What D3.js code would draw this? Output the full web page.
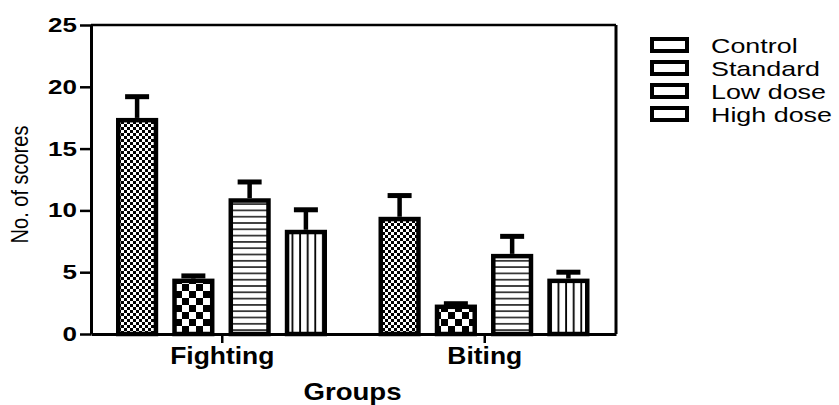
<!DOCTYPE html>
<html>
<head>
<meta charset="utf-8">
<script src="https://cdn.jsdelivr.net/npm/d3@7"></script>
<style>
  body { margin: 0; background: #fff; }
  text { font-family: "Liberation Sans", Arial, sans-serif; }
</style>
</head>
<body>
<div id="chart"></div>
<script>
// values
var groups = ["Fighting", "Biting"];
var series = ["Control", "Standard", "Low dose", "High dose"];
var control = [17.3, 9.3];
var standard = [4.3, 2.2];
var lowDose = [10.8, 6.3];
var highDose = [8.25, 4.3];
var controlErr = [1.9, 1.9];
var standardErr = [0.4, 0.25];
var lowDoseErr = [1.5, 1.6];
var highDoseErr = [1.8, 0.7];
var yTicks = [0, 5, 10, 15, 20, 25];

var means = [control, standard, lowDose, highDose];
var errs = [controlErr, standardErr, lowDoseErr, highDoseErr];

var data = [];
groups.forEach(function (g, gi) {
  series.forEach(function (s, si) {
    data.push({ group: g, series: s, value: means[si][gi], err: errs[si][gi], idx: si });
  });
});

var W = 839, H = 405;
var margin = { top: 25, right: 223, bottom: 71, left: 91 },
  width = W - margin.left - margin.right,
  height = H - margin.top - margin.bottom;

// the original picture is a bit wider than tall, so text gets stretched sideways
function stretch(sel, sx, origin) {
  sel.style("transform-box", "fill-box")
    .style("transform-origin", origin)
    .style("transform", "scaleX(" + sx + ")");
}

var svg = d3.select("#chart").append("svg")
  .attr("width", W)
  .attr("height", H);

// fill patterns
var defs = svg.append("defs");
var p0 = defs.append("pattern").attr("id", "pat0").attr("patternUnits", "userSpaceOnUse")
  .attr("width", 6).attr("height", 6);
p0.append("rect").attr("width", 6).attr("height", 6).attr("fill", "#fff");
p0.append("rect").attr("width", 3).attr("height", 3).attr("fill", "#000");
p0.append("rect").attr("x", 3).attr("y", 3).attr("width", 3).attr("height", 3).attr("fill", "#000");

var p1 = defs.append("pattern").attr("id", "pat1").attr("patternUnits", "userSpaceOnUse")
  .attr("width", 14).attr("height", 14);
p1.append("rect").attr("width", 14).attr("height", 14).attr("fill", "#fff");
p1.append("rect").attr("width", 7).attr("height", 7).attr("fill", "#000");
p1.append("rect").attr("x", 7).attr("y", 7).attr("width", 7).attr("height", 7).attr("fill", "#000");

var p2 = defs.append("pattern").attr("id", "pat2").attr("patternUnits", "userSpaceOnUse")
  .attr("width", 10).attr("height", 6.3);
p2.append("rect").attr("width", 10).attr("height", 6.3).attr("fill", "#fff");
p2.append("rect").attr("y", 2).attr("width", 10).attr("height", 1.4).attr("fill", "#000");

var p3 = defs.append("pattern").attr("id", "pat3").attr("patternUnits", "userSpaceOnUse")
  .attr("width", 7.6).attr("height", 10);
p3.append("rect").attr("width", 7.6).attr("height", 10).attr("fill", "#fff");
p3.append("rect").attr("x", 3).attr("width", 1.8).attr("height", 10).attr("fill", "#000");

var g = svg.append("g")
  .attr("transform", "translate(" + margin.left + "," + margin.top + ")");

var x0 = d3.scaleBand().domain(groups).range([0, width]);
var x1 = d3.scaleBand().domain(series)
  .range([25, x0.bandwidth() - 26.5])
  .paddingInner(0.25);
var y = d3.scaleLinear().domain([0, 25]).range([height, 0]);

var sw = 4.5;

// bars
g.selectAll("rect.bar")
  .data(data)
  .enter()
  .append("rect")
  .attr("class", "bar")
  .attr("x", function (d) { return x0(d.group) + x1(d.series) + sw / 2; })
  .attr("y", function (d) { return y(d.value); })
  .attr("width", x1.bandwidth() - sw)
  .attr("height", function (d) { return y(0) - y(d.value); })
  .attr("fill", function (d) { return "url(#pat" + d.idx + ")"; })
  .attr("stroke", "#000")
  .attr("stroke-width", sw);

// error bars
var eb = g.selectAll("g.err")
  .data(data)
  .enter()
  .append("g")
  .attr("class", "err");
eb.append("line")
  .attr("x1", function (d) { return x0(d.group) + x1(d.series) + x1.bandwidth() / 2; })
  .attr("x2", function (d) { return x0(d.group) + x1(d.series) + x1.bandwidth() / 2; })
  .attr("y1", function (d) { return y(d.value) - sw / 2; })
  .attr("y2", function (d) { return y(d.value + d.err); })
  .attr("stroke", "#000")
  .attr("stroke-width", 4.5);
eb.append("line")
  .attr("x1", function (d) { return x0(d.group) + x1(d.series) + x1.bandwidth() / 2 - 12; })
  .attr("x2", function (d) { return x0(d.group) + x1(d.series) + x1.bandwidth() / 2 + 12; })
  .attr("y1", function (d) { return y(d.value + d.err); })
  .attr("y2", function (d) { return y(d.value + d.err); })
  .attr("stroke", "#000")
  .attr("stroke-width", 5);

// frame (top and right)
g.append("line")
  .attr("x1", 0).attr("x2", width)
  .attr("y1", y(25)).attr("y2", y(25))
  .attr("stroke", "#000").attr("stroke-width", 2.5);
g.append("line")
  .attr("x1", width).attr("x2", width)
  .attr("y1", y(25)).attr("y2", y(0))
  .attr("stroke", "#000").attr("stroke-width", 3);

// Y axis
var yAxis = g.append("g")
  .call(d3.axisLeft(y).tickValues(yTicks).tickSize(11).tickSizeOuter(0).tickPadding(3));
yAxis.select(".domain").attr("stroke-width", 3);
yAxis.selectAll(".tick line").attr("stroke-width", 2.5);
yAxis.selectAll("text")
  .style("font-size", "20px")
  .style("font-weight", "bold")
  .attr("fill", "#000")
  .call(stretch, 1.3, "right center");

// X axis
var xAxis = g.append("g")
  .attr("transform", "translate(0," + height + ")")
  .call(d3.axisBottom(x0).tickSize(9).tickSizeOuter(0).tickPadding(5));
xAxis.select(".domain").attr("stroke-width", 3);
xAxis.selectAll(".tick line").attr("stroke-width", 2.5);
xAxis.selectAll("text")
  .style("font-size", "23px")
  .style("font-weight", "bold")
  .attr("fill", "#000")
  .call(stretch, 1.15, "center");

// axis titles
g.append("text")
  .attr("text-anchor", "middle")
  .attr("transform", "translate(" + (-margin.left + 28) + "," + (height / 2 + 5) + ")rotate(-90)scale(1,1.2)")
  .style("font-size", "20px")
  .text("No. of scores");

g.append("text")
  .attr("x", width / 2 - 1)
  .attr("y", height + 66)
  .attr("text-anchor", "middle")
  .style("font-size", "23px")
  .style("font-weight", "bold")
  .text("Groups")
  .call(stretch, 1.2, "center");

// legend
var legend = svg.append("g")
  .attr("transform", "translate(652,39)");
var li = legend.selectAll("g")
  .data(series)
  .enter()
  .append("g")
  .attr("transform", function (d, i) { return "translate(0," + (i * 23) + ")"; });
li.append("rect")
  .attr("width", 35).attr("height", 12)
  .attr("fill", "#fff")
  .attr("stroke", "#000")
  .attr("stroke-width", 4);
li.append("text")
  .attr("x", 59)
  .attr("y", 6)
  .attr("dy", "0.36em")
  .style("font-size", "21px")
  .text(function (d) { return d; })
  .call(stretch, 1.28, "left center");
</script>
</body>
</html>
